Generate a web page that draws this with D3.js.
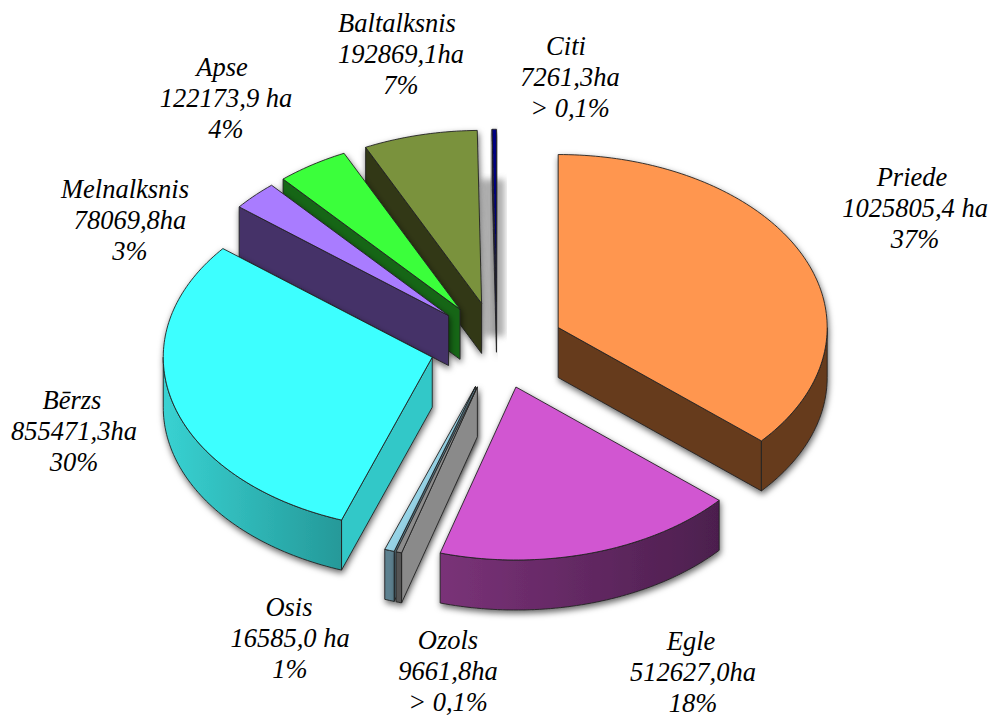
<!DOCTYPE html>
<html><head><meta charset="utf-8">
<script src="https://cdn.jsdelivr.net/npm/d3@7/dist/d3.min.js"></script>
<style>html,body{margin:0;padding:0;background:#fff}svg{display:block}
text{font-family:"Liberation Serif",serif;font-style:italic;font-size:26.5px;fill:#000}</style>
</head><body><svg id="c" width="992" height="717"></svg>
<script>
const categories = ["Priede","Egle","Ozols","Osis","Bērzs","Melnalksnis","Apse","Baltalksnis","Citi"];
const hectares   = [1025805.4,512627.0,9661.8,16585.0,855471.3,78069.8,122173.9,192869.1,7261.3];
const areaLabels = ["1025805,4 ha","512627,0ha","9661,8ha","16585,0 ha","855471,3ha","78069,8ha","122173,9 ha","192869,1ha","7261,3ha"];
const pctLabels  = ["37%","18%","> 0,1%","1%","30%","3%","4%","7%","> 0,1%"];
const topColors  = ["#ff964f","#d157d1","#8c8c8c","#96d3e6","#3dffff","#a97bff","#3aff3a","#7a923c","#000080"];
const startWall  = ["#663a1e","#4f2050","#8a8a8a","#5d8190","#33c8c8","#443068","#186618","#303818","#1a1a50"];
const endWall    = ["#663a1e","#4f2050","#555555","#5d8190","#33c8c8","#443068","#186618","#303818","#1a1a50"];
const rimLeft    = ["#663a1e","#7a3278","#555555","#5d8190","#38d2d2","#443068","#186618","#303818","#1a1a50"];
const rimRight   = ["#663a1e","#4c1f4e","#555555","#5d8190","#259999","#443068","#186618","#303818","#1a1a50"];
const nameX  = [912,691,448,289,72,125,222,397,566];
const labelX = [915,693,448,290,74,130,226,401,570];
const labelY = [178,642,641,608,401,190,68,24,47];
const drawOrder = [8,7,6,5,4,0,1,3,2];

const cx=497, cy=345.5, rx=269, ry=173, depth=50, explode=.25, lineGap=31;
const svg=d3.select("#c"), defs=svg.append("defs");
const f=defs.append("filter").attr("id","sh").attr("x","-30%").attr("y","-30%").attr("width","160%").attr("height","160%")
  .attr("filterUnits","objectBoundingBox");
f.append("feDropShadow").attr("dx",1).attr("dy",3).attr("stdDeviation",3).attr("flood-color","#000").attr("flood-opacity",.6);
defs.append("filter").attr("id","blur").append("feGaussianBlur").attr("stdDeviation",3);

const X=d3.scaleLinear().domain([-1,1]).range([-rx,rx]);
const Y=d3.scaleLinear().domain([-1,1]).range([-ry,ry]);
const arcs=d3.pie().sort(null).value(d=>d)(hectares);
const ang=a=>[Math.sin(a),-Math.cos(a)];
const samples=(a,b)=>{const n=Math.max(2,Math.ceil((b-a)/0.02));return d3.range(n+1).map(i=>a+(b-a)*i/n);};

const stroke={stroke:"#222","stroke-width":.9,"stroke-linejoin":"round"};
function poly(g,pts,fill){
  const p=g.append("path").attr("d",d3.line()(pts)+"Z").attr("fill",fill);
  Object.entries(stroke).forEach(([k,v])=>p.attr(k,v));return p;
}
drawOrder.forEach(i=>{
  const d=arcs[i], a0=d.startAngle, a1=d.endAngle, mid=(a0+a1)/2;
  const [mx,my]=ang(mid);
  const ax=cx+X(mx)*explode, ay=cy+Y(my)*explode;
  const P=(a,dz=0)=>{const [s,c]=ang(a);return [ax+X(s),ay+Y(c)+dz];};
  const g=svg.append("g").attr("filter","url(#sh)");
  if(categories[i]==="Citi"){
    const p0=P(a0),q=[ax,ay];
    svg.insert("path","g").attr("d",d3.line()([[p0[0]-12,p0[1]+50],[q[0]+8,p0[1]+50],[q[0]+8,q[1]+34],[q[0]-12,q[1]+34]])+"Z")
      .attr("fill","#777").attr("opacity",.6).attr("filter","url(#blur)");
  }
  const ra=Math.max(a0,Math.PI/2), rb=Math.min(a1,3*Math.PI/2);
  if(Math.sin(a1)>0) poly(g,[[ax,ay],P(a1),P(a1,depth),[ax,ay+depth]],endWall[i]);
  if(Math.sin(a0)<0) poly(g,[[ax,ay],P(a0),P(a0,depth),[ax,ay+depth]],startWall[i]);
  if(ra<rb){
    const gid="rim"+i, xs=samples(ra,rb).map(a=>P(a)[0]);
    const lg=defs.append("linearGradient").attr("id",gid).attr("gradientUnits","userSpaceOnUse")
      .attr("x1",d3.min(xs)).attr("x2",d3.max(xs)).attr("y1",0).attr("y2",0);
    lg.append("stop").attr("offset",0).attr("stop-color",rimLeft[i]);
    lg.append("stop").attr("offset",1).attr("stop-color",rimRight[i]);
    const s=samples(ra,rb);
    poly(g,s.map(a=>P(a)).concat(s.slice().reverse().map(a=>P(a,depth))),`url(#${gid})`);
  }
  poly(g,[[ax,ay]].concat(samples(a0,a1).map(a=>P(a))),topColors[i]);
});
categories.forEach((c,i)=>{
  const t=svg.append("text").attr("text-anchor","middle");
  [c,areaLabels[i],pctLabels[i]].forEach((s,j)=>{
    t.append("tspan").attr("x",j===0?nameX[i]:labelX[i]).attr("y",labelY[i]+8+j*lineGap).text(s);
  });
});
</script></body></html>
